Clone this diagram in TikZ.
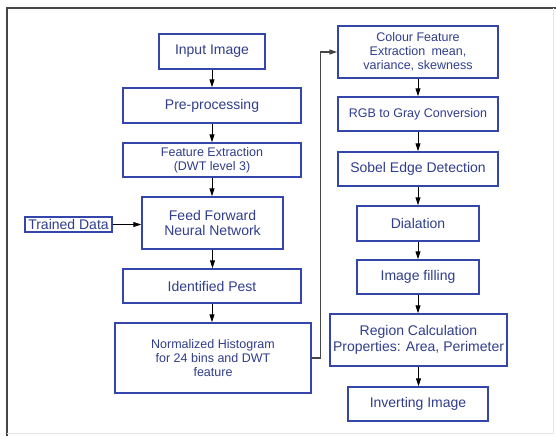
\documentclass[tikz,border=0pt]{standalone}
\usepackage{fontspec}
\setmainfont{Liberation Sans}
\usetikzlibrary{arrows.meta}
\definecolor{boxblue}{RGB}{52,70,172}
\definecolor{txtblue}{RGB}{48,62,140}
\definecolor{framegray}{RGB}{70,70,70}
\tikzset{
  stepbox/.style={draw=boxblue, line width=1.4pt, rectangle, inner sep=0pt,
    align=center, text=txtblue, font=\fontsize{14}{15.5}\selectfont},
  smallbox/.style={stepbox, font=\fontsize{12.5}{14}\selectfont},
  flow/.style={draw=black, line width=0.9pt, -{Triangle[length=8pt,width=5pt]}},
  link/.style={draw=framegray, line width=1.2pt, -{Triangle[length=8pt,width=5pt]}}
}
\begin{document}
\begin{tikzpicture}[x=1pt,y=-1pt]
\useasboundingbox (0,0) rectangle (556,436);
\fill[white] (0,0) rectangle (556,436);
% outer frame
\draw[framegray, line width=1.4pt] (7,436) -- (7,8) -- (556,8);
\draw[black!10, line width=0.8pt] (553,8) -- (553,433) -- (7,433);

% left column
\node[stepbox, minimum width=106pt, minimum height=35pt] (input) at (212,51.5) {Input Image};
\node[stepbox, minimum width=178pt, minimum height=35pt] (pre) at (212,105.5) {Pre-processing};
\node[smallbox, minimum width=178pt, minimum height=34pt] (feat) at (212,160) {Feature Extraction\\ (DWT level 3)};
\node[stepbox, minimum width=141pt, minimum height=52pt] (ffnn) at (212.5,223) {Feed Forward\\Neural Network};
\node[stepbox, minimum width=87pt, minimum height=15pt] (trained) at (68.5,224.5) {Trained Data};
\node[stepbox, minimum width=178pt, minimum height=34pt] (pest) at (212,286) {Identified Pest};
\node[smallbox, minimum width=196pt, minimum height=70pt] (hist) at (213,358) {Normalized Histogram\\for 24 bins and DWT\\feature};

% right column
\node[smallbox, minimum width=160pt, minimum height=52pt] (colour) at (418,52) {Colour Feature\\Extraction\enspace mean,\\variance, skewness};
\node[smallbox, minimum width=160pt, minimum height=34pt] (gray) at (418,114) {RGB to Gray Conversion};
\node[stepbox, minimum width=160pt, minimum height=34pt] (sobel) at (418,169) {Sobel Edge Detection};
\node[stepbox, minimum width=122pt, minimum height=35pt] (dial) at (418,223.5) {Dialation};
\node[stepbox, minimum width=122pt, minimum height=34pt] (fill) at (418,277) {Image filling};
\node[stepbox, minimum width=177pt, minimum height=52pt] (region) at (418.5,340) {Region Calculation\\Properties: Area, Perimeter};
\node[stepbox, minimum width=140pt, minimum height=34pt] (invert) at (418,404) {Inverting Image};

% vertical flow
\foreach \a/\b in {input/pre, pre/feat, feat/ffnn, ffnn/pest, pest/hist,
                   colour/gray, gray/sobel, sobel/dial, dial/fill, fill/region, region/invert}
  \draw[flow] (\a.south) -- (\a.south |- \b.north);

% side inputs and column link
\draw[flow] (trained.east) -- (trained.east -| ffnn.west);
\draw[link] (hist.east) -- ++(9,0) |- (colour.west);
\end{tikzpicture}
\end{document}
